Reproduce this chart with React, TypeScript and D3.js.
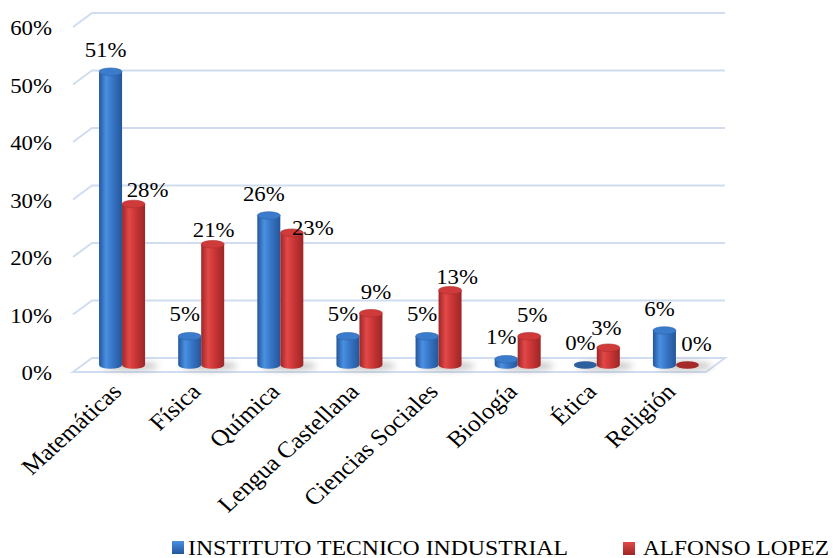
import React from "react";
import * as d3 from "d3";

const categories = ["Matemáticas", "Física", "Química", "Lengua Castellana", "Ciencias Sociales", "Biología", "Ética", "Religión"];
const seriesNames = ["INSTITUTO TECNICO INDUSTRIAL", "ALFONSO LOPEZ"];
const institutoValues = [0.51, 0.05, 0.26, 0.05, 0.05, 0.01, 0.0, 0.06];
const alfonsoValues = [0.28, 0.21, 0.23, 0.09, 0.13, 0.05, 0.03, 0.0];
const yTicks = [0, 0.1, 0.2, 0.3, 0.4, 0.5, 0.6];

// label nudges (layout only) for the second series, as Excel moved them to avoid overlap
const alfonsoLabelNudge: [number, number][] = [[11, 7], [-2, 7], [18, 16], [2, 0], [4, 8], [0, 0], [-5, 1], [6, 0]];

const W = 833, H = 558;
const FL = 73, FR = 706, FY = 372; // front floor
const DX = 19, DY = 14; // depth
const SX = 1.14; // horizontal text stretch
const FONT = "'Liberation Serif', 'Times New Roman', serif";

const palettes = [
  { dark: "#24569a", mid: "#3674c4", light: "#4a90e2", top: "#3b7bcb", topEdge: "#2d64ad", flat: "#2d5f9e" },
  { dark: "#9c2626", mid: "#c93434", light: "#e24848", top: "#cf3a3a", topEdge: "#b02e2e", flat: "#a52a2a" },
];

export default function App() {
  const yFront = d3.scaleLinear().domain([0, 0.6]).range([FY, FY - 345]);
  const yBack = (v: number) => yFront(v) - DY;
  const yMid = (v: number) => yFront(v) - DY / 2;
  const x = d3.scaleBand<string>().domain(categories).range([FL, FR]).padding(0);
  const barW = 23;
  const rx = barW / 2, ry = 3.8;
  const series = [institutoValues, alfonsoValues];

  const cyl = (cx: number, v: number, p: typeof palettes[0], gid: string, key: string) => {
    const top = yMid(v), bot = yMid(0);
    if (v <= 0.0001) {
      return (
        <ellipse key={key} cx={cx} cy={bot} rx={rx} ry={ry} fill={p.flat} />
      );
    }
    const d = `M${cx - rx},${top} L${cx - rx},${bot} A${rx},${ry} 0 0 0 ${cx + rx},${bot} L${cx + rx},${top} Z`;
    return (
      <g key={key}>
        <path d={d} fill={`url(#${gid})`} />
        <ellipse cx={cx} cy={top} rx={rx} ry={ry} fill={p.top} stroke={p.topEdge} strokeWidth={0.6} />
      </g>
    );
  };

  return (
    <svg width={W} height={H} style={{ display: "block", position: "absolute", left: 0, top: 0 }}>
      <defs>
        {palettes.map((p, i) => (
          <linearGradient key={i} id={`g${i}`} x1="0" x2="1" y1="0" y2="0">
            <stop offset="0" stopColor={p.dark} />
            <stop offset="0.3" stopColor={p.light} />
            <stop offset="0.6" stopColor={p.mid} />
            <stop offset="1" stopColor={p.dark} />
          </linearGradient>
        ))}
        {palettes.map((p, i) => (
          <linearGradient key={i} id={`lg${i}`} x1="0" x2="0" y1="0" y2="1">
            <stop offset="0" stopColor={p.light} />
            <stop offset="1" stopColor={p.dark} />
          </linearGradient>
        ))}
        <filter id="blur" x="-50%" y="-100%" width="200%" height="300%">
          <feGaussianBlur stdDeviation="3" />
        </filter>
      </defs>
      <rect x={0} y={0} width={W} height={H} fill="#ffffff" />

      {/* floor */}
      <polygon
        points={`${FL},${FY} ${FR},${FY} ${FR + DX},${FY - DY} ${FL + DX},${FY - DY}`}
        fill="#ffffff" stroke="#d0ddf0" strokeWidth={2} />

      {/* gridlines */}
      {yTicks.filter(t => t > 0).map(t => (
        <polyline key={t}
          points={`${FL},${yFront(t)} ${FL + DX},${yBack(t)} ${FR + DX},${yBack(t)}`}
          fill="none" stroke="#d0ddf0" strokeWidth={2} />
      ))}

      {/* y labels */}
      {yTicks.map(t => (
        <text key={t} transform={`translate(52,${yFront(t) + 8}) scale(${SX},1)`}
          textAnchor="end" fontFamily={FONT} fontSize={20} fill="#000">
          {d3.format(".0%")(t)}
        </text>
      ))}

      {/* shadows */}
      {categories.map((c) => {
        const cc = (x(c) as number) + x.bandwidth() / 2 + DX / 2;
        return (
          <ellipse key={c} cx={cc + 8} cy={yMid(0) + 1} rx={28} ry={5}
            fill="#8a8a8a" opacity={0.45} filter="url(#blur)" />
        );
      })}

      {/* bars */}
      {categories.map((c, i) => {
        const cc = (x(c) as number) + x.bandwidth() / 2 + DX / 2;
        return (
          <g key={c}>
            {series.map((vals, s) =>
              cyl(cc + (s === 0 ? -rx : rx), vals[i], palettes[s], `g${s}`, `${c}-${s}`)
            )}
          </g>
        );
      })}

      {/* value labels */}
      {categories.map((c, i) => {
        const cc = (x(c) as number) + x.bandwidth() / 2 + DX / 2;
        return series.map((vals, s) => {
          const bx = cc + (s === 0 ? -rx : rx);
          const v = vals[i];
          let lx = bx, ly = yMid(v);
          if (s === 0) { lx += -5; ly += -15; }
          else { lx += 3 + alfonsoLabelNudge[i][0]; ly += -14 + alfonsoLabelNudge[i][1]; }
          return (
            <text key={`${c}-l${s}`} transform={`translate(${lx},${ly}) scale(${SX},1)`}
              textAnchor="middle" fontFamily={FONT} fontSize={20} fill="#000">
              {d3.format(".0%")(v)}
            </text>
          );
        });
      })}

      {/* category labels */}
      {categories.map(c => {
        const cc = (x(c) as number) + x.bandwidth() / 2 + DX / 2;
        return (
          <text key={c} transform={`translate(${cc + 1},${393}) scale(1.1,1) rotate(-45)`}
            textAnchor="end" fontFamily={FONT} fontSize={23} fill="#000">
            {c}
          </text>
        );
      })}

      {/* legend */}
      <rect x={172} y={541} width={12} height={13} fill="url(#lg0)" />
      <text x={188} y={555} fontFamily={FONT} fontSize={20} textLength={380} lengthAdjust="spacingAndGlyphs" fill="#000">
        {seriesNames[0]}
      </text>
      <rect x={623} y={542} width={12} height={13} fill="url(#lg1)" />
      <text x={643} y={555} fontFamily={FONT} fontSize={20} textLength={186} lengthAdjust="spacingAndGlyphs" fill="#000">
        {seriesNames[1]}
      </text>
    </svg>
  );
}
